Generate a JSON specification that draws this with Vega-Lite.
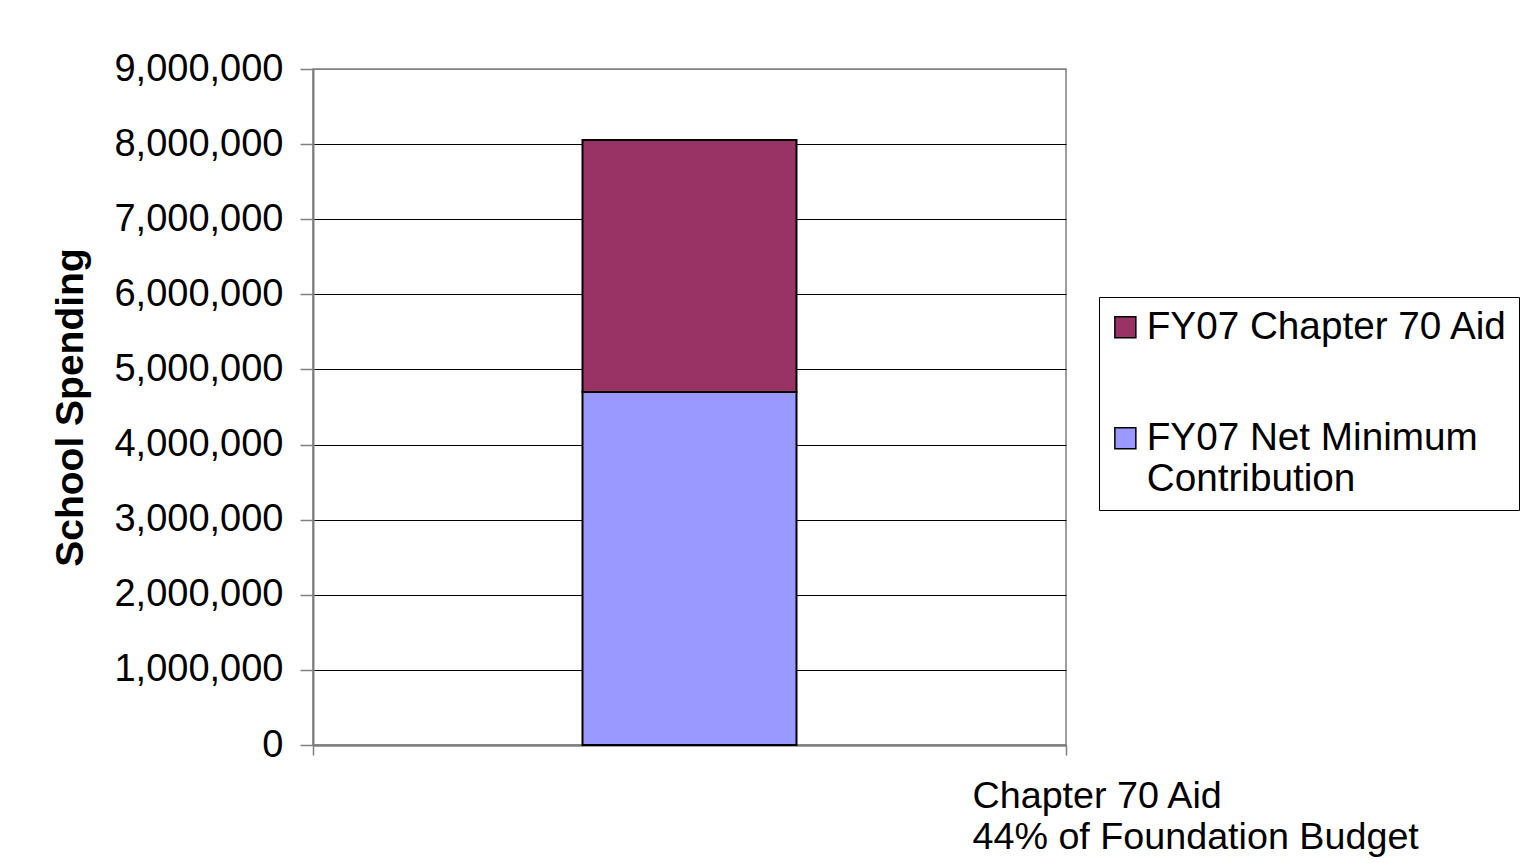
{
  "$schema": "https://vega.github.io/schema/vega-lite/v6.json",
  "width": 753,
  "height": 676,
  "autosize": {"type": "none"},
  "padding": {"left": 313, "top": 69, "right": 455, "bottom": 118},
  "background": "white",
  "config": {
    "font": "Liberation Sans",
    "view": {"stroke": "#808080", "strokeWidth": 1.5}
  },
  "data": {
    "values": [
      {"category": "Chapter 70 Aid", "series": "FY07 Net Minimum Contribution", "amount": 4700000},
      {"category": "Chapter 70 Aid", "series": "FY07 Chapter 70 Aid", "amount": 3355000}
    ]
  },
  "mark": {"type": "bar", "width": 214, "stroke": "black", "strokeWidth": 2},
  "encoding": {
    "x": {
      "field": "category",
      "type": "nominal",
      "scale": {"paddingInner": 0, "paddingOuter": 0},
      "axis": {
        "labels": false,
        "tickBand": "extent",
        "tickSize": 10,
        "tickColor": "#808080",
        "tickWidth": 1.5,
        "domainColor": "#808080",
        "domainWidth": 2.5,
        "title": ["Chapter 70 Aid", "44% of Foundation Budget"],
        "titleFont": "Liberation Sans",
        "titleFontSize": 37.7,
        "titleFontWeight": "normal",
        "titleColor": "black",
        "titleAlign": "left",
        "titleAnchor": "start",
        "titleBaseline": "alphabetic",
        "titleLineHeight": 41,
        "titleX": 659,
        "titleY": 62
      }
    },
    "y": {
      "field": "amount",
      "type": "quantitative",
      "stack": "zero",
      "scale": {"domain": [0, 9000000], "nice": false},
      "axis": {
        "values": [0, 1000000, 2000000, 3000000, 4000000, 5000000, 6000000, 7000000, 8000000, 9000000],
        "format": ",.0f",
        "labelFontSize": 38,
        "labelColor": "black",
        "labelPadding": 17,
        "labelFlush": false,
        "tickSize": 13,
        "tickColor": "#808080",
        "tickWidth": 1.5,
        "domainColor": "#808080",
        "domainWidth": 2,
        "grid": true,
        "gridColor": {"condition": {"test": "datum.value == 9000000", "value": "#808080"}, "value": "black"},
        "gridWidth": 1,
        "title": "School Spending",
        "titleFontSize": 39,
        "titleFontWeight": "bold",
        "titleColor": "black",
        "titlePadding": 23
      }
    },
    "color": {
      "field": "series",
      "type": "nominal",
      "scale": {
        "domain": ["FY07 Chapter 70 Aid", "FY07 Net Minimum Contribution"],
        "range": ["#993366", "#9999ff"]
      },
      "legend": {
        "title": null,
        "orient": "none",
        "legendX": 786,
        "legendY": 228,
        "fillColor": "white",
        "strokeColor": "black",
        "padding": 11,
        "symbolType": "square",
        "symbolSize": 441,
        "symbolOffset": -4,
        "symbolStrokeColor": "black",
        "symbolStrokeWidth": 1.5,
        "symbolOpacity": 1,
        "labelFontSize": 38.7,
        "labelColor": "black",
        "labelLimit": 400,
        "labelOffset": 2,
        "rowPadding": 71,
        "labelExpr": "datum.label == 'FY07 Net Minimum Contribution' ? ['FY07 Net Minimum', 'Contribution'] : datum.label"
      }
    },
    "order": {"field": "series", "sort": "descending"}
  }
}
